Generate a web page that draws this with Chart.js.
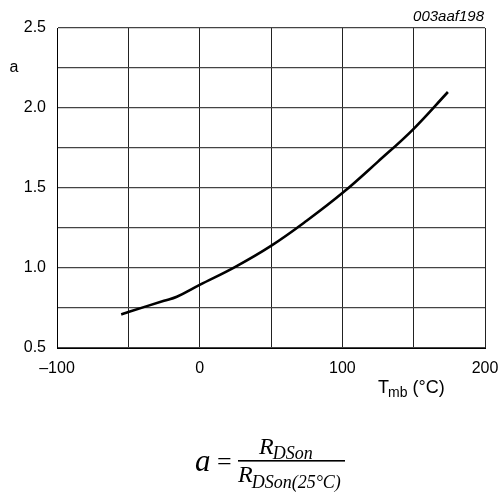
<!DOCTYPE html>
<html>
<head>
<meta charset="utf-8">
<script src="https://cdn.jsdelivr.net/npm/chart.js@4"></script>
<style>
html,body{margin:0;padding:0;background:#fff;}
#wrap{width:501px;height:493px;position:relative;}
</style>
</head>
<body>
<div id="wrap"><canvas id="c" width="501" height="493"></canvas></div>
<script>
// Data
const tempC = [-55, -50, -25, -16, 0, 25, 50, 75, 100, 125, 150, 174];
const ratioA = [0.71, 0.725, 0.795, 0.82, 0.894, 1.007, 1.138, 1.295, 1.468, 1.665, 1.87, 2.10];
const xTickLabels = [-100, 0, 100, 200];
const yTickLabels = [0.5, 1.0, 1.5, 2.0, 2.5];
const chartCode = '003aaf198';
const yAxisName = 'a';

const FONT = '"Liberation Sans", Arial, Helvetica, sans-serif';
const SERIF = '"Liberation Serif", "Times New Roman", serif';

const annotate = {
  id: 'annotate',
  afterDraw(chart) {
    const ctx = chart.ctx;
    const xs = chart.scales.x, ys = chart.scales.y;
    ctx.save();
    ctx.fillStyle = '#000';
    // chart code top right
    ctx.font = 'italic 15px ' + FONT;
    ctx.textAlign = 'right';
    ctx.textBaseline = 'alphabetic';
    ctx.fillText(chartCode, xs.right - 1, 21);
    // y axis name
    ctx.font = '16px ' + FONT;
    ctx.textAlign = 'center';
    ctx.textBaseline = 'middle';
    ctx.fillText(yAxisName, 14, ys.getPixelForValue(2.25));
    // x axis name: T_mb (°C)
    ctx.textAlign = 'left';
    ctx.textBaseline = 'alphabetic';
    let x = 378, base = 393;
    ctx.font = '18px ' + FONT;
    ctx.fillText('T', x, base);
    x += ctx.measureText('T').width - 1;
    ctx.font = '14px ' + FONT;
    ctx.fillText('mb', x, base + 4);
    x += ctx.measureText('mb').width;
    ctx.font = '18px ' + FONT;
    ctx.fillText(' (°C)', x, base);
    // formula
    const fx = 238, fr = 345, lineY = 461;
    ctx.font = 'italic 31px ' + SERIF;
    ctx.textAlign = 'left';
    ctx.fillText('a', 195, 471);
    ctx.font = '26px ' + SERIF;
    ctx.fillText('=', 217, 470);
    ctx.fillRect(fx, lineY - 1, fr - fx, 1.6);
    // numerator
    ctx.font = 'italic 24px ' + SERIF;
    let nx = 259;
    ctx.fillText('R', nx, 454);
    nx += ctx.measureText('R').width - 1;
    ctx.font = 'italic 18px ' + SERIF;
    ctx.fillText('DSon', nx, 459);
    // denominator
    ctx.font = 'italic 24px ' + SERIF;
    let dx = 238;
    ctx.fillText('R', dx, 482);
    dx += ctx.measureText('R').width - 1;
    ctx.font = 'italic 18px ' + SERIF;
    ctx.fillText('DSon(25°C)', dx, 488);
    ctx.restore();
  }
};

const halfStep = v => Math.abs(v * 2 - Math.round(v * 2)) < 1e-9;

new Chart(document.getElementById('c'), {
  type: 'line',
  data: {
    datasets: [{
      data: tempC.map((t, i) => ({x: t, y: ratioA[i]})),
      borderColor: '#000',
      borderWidth: 2.6,
      pointRadius: 0,
      tension: 0.4,
      fill: false
    }]
  },
  options: {
    responsive: false,
    animation: false,
    devicePixelRatio: 1,
    layout: {padding: {top: 28, right: 0, left: 0, bottom: 0}},
    plugins: {legend: {display: false}, tooltip: {enabled: false}},
    scales: {
      x: {
        type: 'linear', min: -100, max: 200,
        afterFit(s) { s.height = 145; s.paddingRight = 16; s.paddingLeft = 0; },
        ticks: {
          stepSize: 50, autoSkip: false, maxRotation: 0, padding: 11,
          color: '#000', font: {family: FONT, size: 16},
          callback: v => xTickLabels.includes(v) ? String(v).replace('-', '\u2013') : ''
        },
        grid: {color: '#222', lineWidth: 1, drawTicks: false},
        border: {color: '#000', width: 1}
      },
      y: {
        type: 'linear', min: 0.5, max: 2.5,
        afterFit(s) { s.width = 57; s.paddingTop = 0; s.paddingBottom = 0; },
        ticks: {
          stepSize: 0.25, autoSkip: false, padding: 11,
          color: '#000', font: {family: FONT, size: 16},
          callback: v => (halfStep(v) && yTickLabels.some(t => Math.abs(t - v) < 1e-9)) ? v.toFixed(1) : ''
        },
        grid: {color: '#444', lineWidth: 1.3, drawTicks: false},
        border: {color: '#000', width: 1}
      }
    }
  },
  plugins: [annotate]
});
</script>
</body>
</html>
